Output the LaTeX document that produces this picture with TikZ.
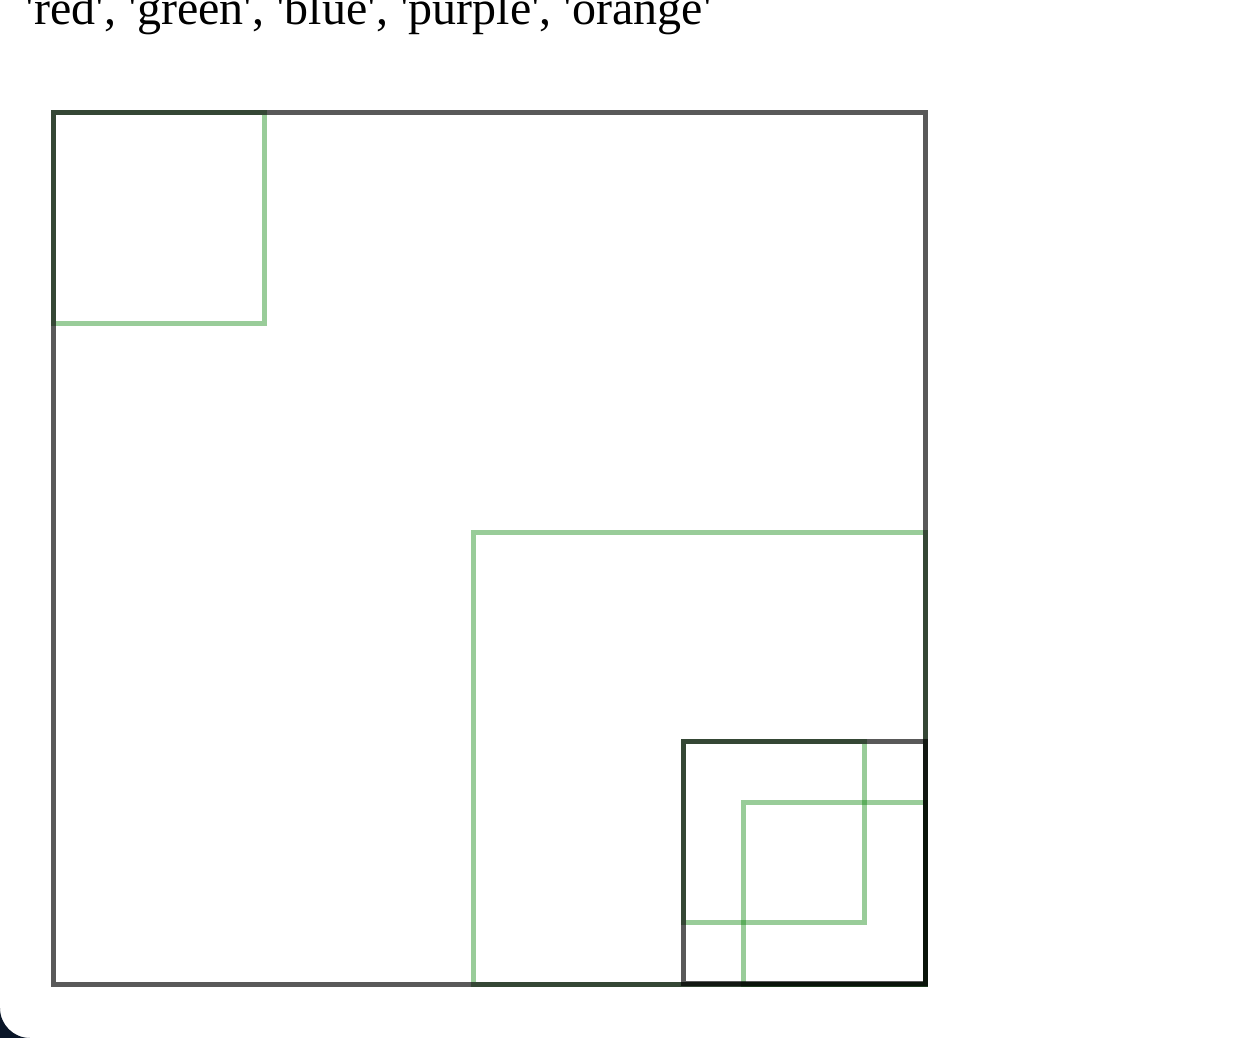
\documentclass[tikz,border=0pt]{standalone}
\usepackage{fontspec}
\setmainfont{Liberation Serif}
\definecolor{panelnavy}{RGB}{10,22,40}
\definecolor{boxgreen}{RGB}{0,128,0}
\newcommand{\q}{\textquotesingle}

\begin{document}
\begin{tikzpicture}
  [x=0.02cm,y=-0.02cm,line width=0.1cm,
   graybox/.style={draw=black,draw opacity=.65},
   greenbox/.style={draw=boxgreen,draw opacity=.4},
   every node/.style={inner sep=0,outer sep=0}]
  \useasboundingbox (0,0) rectangle (1242,1038);
  \fill[white] (0,0) rectangle (1242,1038);
  % corner of the panel
  \fill[panelnavy] (0,1008) |- (30,1038) arc[start angle=90,end angle=180,radius=30];

  \node[anchor=base west] (colours) at (26,24)
    {\fontsize{27.3}{32}\selectfont \q red\q, \q green\q, \q blue\q, \q purple\q, \q orange\q};

  % green ones first, the gray ones lie on top
  \foreach \x/\y/\s in {53/112/211,473/532/452,683/741/181,743/802/182}
    \draw[greenbox] (\x,\y) rectangle ++(\s,\s);
  \foreach \x/\y/\s in {53/112/872,683/741/242}
    \draw[graybox] (\x,\y) rectangle ++(\s,\s);

\end{tikzpicture}
\end{document}
